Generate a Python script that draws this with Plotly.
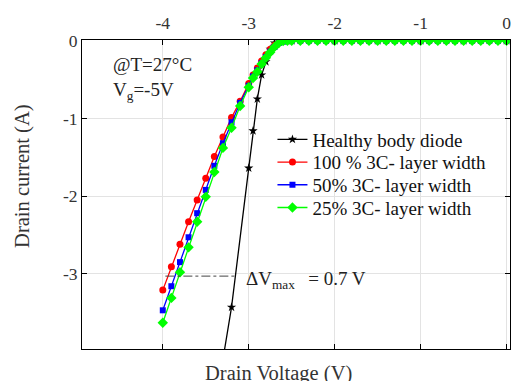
import plotly.graph_objects as go

# ---------------- data ----------------
healthy_x = [-3.3, -3.2, -3.0, -2.95, -2.9, -2.85, -2.8, -2.75, -2.7, -2.6, -2.5, -2.0, -1.5, -1.0, -0.5, 0.0]
healthy_y = [-4.10, -3.43, -1.64, -1.16, -0.75, -0.44, -0.27, -0.11, -0.03, 0.0, 0.0, 0.0, 0.0, 0.0, 0.0, 0.0]

layer_x = [-4.0, -3.9, -3.8, -3.7, -3.6, -3.5, -3.4, -3.3, -3.2, -3.1, -3.0, -2.95, -2.9, -2.85,
           -2.8, -2.75, -2.7, -2.65, -2.6, -2.55, -2.5, -2.4, -2.3, -2.2, -2.1, -2.0, -1.9, -1.8,
           -1.7, -1.6, -1.5, -1.4, -1.3, -1.2, -1.1, -1.0, -0.9, -0.8, -0.7, -0.6, -0.5, -0.4,
           -0.3, -0.2, -0.1, 0.0]
flat_zero = [0.0] * 27

w100_y = [-3.21, -2.91, -2.62, -2.33, -2.05, -1.77, -1.49, -1.24, -0.99, -0.78, -0.55, -0.44, -0.35,
          -0.26, -0.18, -0.11, -0.06, -0.02, -0.005] + flat_zero
w50_y = [-3.47, -3.16, -2.85, -2.53, -2.22, -1.92, -1.61, -1.32, -1.05, -0.80, -0.58, -0.46, -0.38,
         -0.29, -0.21, -0.14, -0.08, -0.03, -0.01] + flat_zero
w25_y = [-3.63, -3.31, -2.98, -2.66, -2.33, -2.01, -1.69, -1.38, -1.12, -0.84, -0.60, -0.48, -0.40,
         -0.30, -0.22, -0.15, -0.08, -0.03, -0.005] + flat_zero

names = ["Healthy body diode", "100 % 3C- layer width", "50% 3C- layer width", "25% 3C- layer width"]

x_ticks = [-4, -3, -2, -1, 0]
x_ticktext = ["-4", "-3", "-2", "-1", "0"]
y_ticks = [0, -1, -2, -3]
y_ticktext = ["0", "-1", "-2", "-3"]

dv_line_x = [-3.97, -3.14]
dv_line_y = -3.03

FONT = "Liberation Serif"

fig = go.Figure()
fig.add_trace(go.Scatter(x=healthy_x, y=healthy_y, name=names[0], mode="lines+markers", legend="legend",
                         line=dict(color="black", width=1.3),
                         marker=dict(symbol="star", size=7, color="black")))
fig.add_trace(go.Scatter(x=layer_x, y=w100_y, name=names[1], mode="lines+markers", legend="legend2",
                         line=dict(color="#ff0000", width=1.3),
                         marker=dict(symbol="circle", size=7, color="#ff0000")))
fig.add_trace(go.Scatter(x=layer_x, y=w50_y, name=names[2], mode="lines+markers", legend="legend3",
                         line=dict(color="#0000ff", width=1.3),
                         marker=dict(symbol="square", size=6, color="#0000ff")))
fig.add_trace(go.Scatter(x=layer_x, y=w25_y, name=names[3], mode="lines+markers", legend="legend4",
                         line=dict(color="#00ff00", width=1.3),
                         marker=dict(symbol="diamond", size=8, color="#00ff00")))

fig.add_shape(type="line", x0=dv_line_x[0], x1=dv_line_x[1], y0=dv_line_y, y1=dv_line_y,
              xref="x", yref="y", line=dict(color="#444444", width=1, dash="dashdot"))

fig.add_annotation(x=-4.60, y=-0.31, xref="x", yref="y", text="@T=27°C", showarrow=False,
                   xanchor="left", yanchor="middle", font=dict(family=FONT, size=19, color="#222"))
fig.add_annotation(x=-4.60, y=-0.65, xref="x", yref="y", text="V<sub>g</sub>=-5V", showarrow=False,
                   xanchor="left", yanchor="middle", font=dict(family=FONT, size=19, color="#222"))
fig.add_annotation(x=-3.055, y=-3.075, xref="x", yref="y", text="ΔV<sub>max</sub>  \u2009= 0.7 V", showarrow=False,
                   xanchor="left", yanchor="middle", font=dict(family=FONT, size=19, color="#222"))

fig.add_annotation(x=0.46, y=-0.078, xref="paper", yref="paper", text="Drain Voltage (V)", showarrow=False,
                   xanchor="center", yanchor="middle", font=dict(family=FONT, size=20.5, color="#333"))
fig.add_annotation(x=-0.138, y=0.56, xref="paper", yref="paper", text="Drain current (A)", showarrow=False,
                   textangle=-90, xanchor="center", yanchor="middle",
                   font=dict(family=FONT, size=20.5, color="#333"))

axis_common = dict(showline=True, linecolor="black", linewidth=1, mirror="ticks", ticks="inside",
                   ticklen=5, tickcolor="black", showgrid=True, gridcolor="#e3e3e3", gridwidth=1,
                   zeroline=False, automargin=False, tickfont=dict(family=FONT, size=17.5, color="#333"))

legend_common = dict(x=0.445, xanchor="left", yanchor="top", bgcolor="rgba(0,0,0,0)",
                     borderwidth=0, font=dict(family=FONT, size=19, color="#111"))

fig.update_layout(
    width=513, height=381,
    margin=dict(l=82, r=3, t=40, b=32, autoexpand=False),
    paper_bgcolor="white", plot_bgcolor="white",
    font=dict(family=FONT, color="#222"),
    xaxis=dict(range=[-4.94, 0.04], side="top", tickvals=x_ticks, ticktext=x_ticktext,
               ticklabelstandoff=3, **axis_common),
    yaxis=dict(range=[-3.968, 0.009], tickvals=y_ticks, ticktext=y_ticktext, **axis_common),
    showlegend=True,
    legend=dict(y=0.7395, **legend_common),
    legend2=dict(y=0.666, **legend_common),
    legend3=dict(y=0.5926, **legend_common),
    legend4=dict(y=0.519, **legend_common),
)

fig.write_html("out.html", config={"displayModeBar": False},
               post_script="document.body.style.margin='0';document.body.style.overflow='hidden';")
